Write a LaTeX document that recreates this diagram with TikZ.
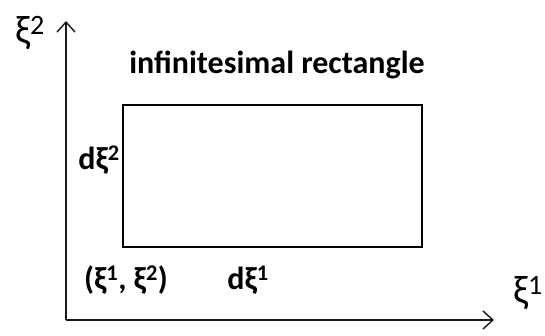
\documentclass[tikz,border=0pt]{standalone}
\usepackage{fontspec}
\setmainfont{Carlito}
\usetikzlibrary{arrows.meta, positioning}
\definecolor{axisgrey}{rgb}{0.1, 0.1, 0.1}

\begin{document}
\begin{tikzpicture}[x=1pt, y=1pt, line width=1.6pt,
    axisarrow/.style={-{Straight Barb[length=10pt, width=18pt, line width=1.4pt]}, draw=axisgrey},
    lbl/.style={font=\fontsize{32}{38}\selectfont\bfseries, inner sep=0pt},
    axlbl/.style={font=\fontsize{40}{46}\selectfont, inner sep=0pt}]
    \useasboundingbox (0,0) rectangle (545,335);
    % axes
    \coordinate (O) at (66,15);
    \coordinate (X) at (494,15);
    \coordinate (Y) at (66,314);
    \draw [axisarrow] (O) -- (X);
    \draw [axisarrow] (O) -- (Y);
    \node [axlbl] (xione) at (528,42) {ξ\textsuperscript{1}};
    \node [axlbl] (xitwo) at (30,302) {ξ\textsuperscript{2}};
    % the rectangle
    \node [draw, minimum width=299pt, minimum height=142pt, inner sep=0pt] (rect) at (272.5,159) {};
    \node [lbl] (title) at (277,270) {infinitesimal rectangle};
    \node [lbl] (dxitwo) at (99,175) {dξ\textsuperscript{2}};
    \node [lbl] (corner) at (126,55) {(ξ\textsuperscript{1}, ξ\textsuperscript{2})};
    \node [lbl] (dxione) at (248,55) {dξ\textsuperscript{1}};
\end{tikzpicture}
\end{document}
